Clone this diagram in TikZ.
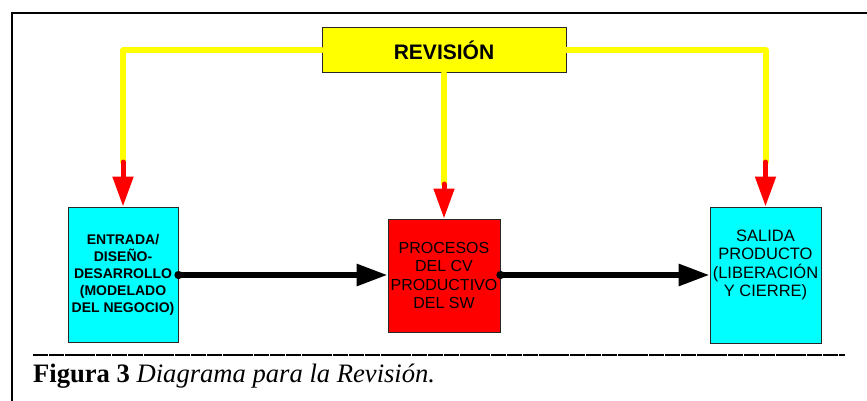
\documentclass[tikz,border=0pt]{standalone}
\usepackage{fontspec}
\setmainfont{Liberation Serif}
\newfontfamily\arialf{Liberation Sans}
\usetikzlibrary{arrows.meta}
\definecolor{revyellow}{RGB}{255,255,0}
\definecolor{boxcyan}{RGB}{0,255,255}
\definecolor{boxred}{RGB}{255,0,0}
\definecolor{edgegray}{RGB}{40,40,40}
\tikzset{
  boxbase/.style={draw=edgegray, line width=1pt, inner sep=0pt, align=center, text=black},
  boldtext/.style={font=\arialf\bfseries\fontsize{14}{17}\selectfont},
  plaintext/.style={font=\arialf\fontsize{16}{18.5}\selectfont},
  yline/.style={draw=revyellow, line width=6pt, line join=round, line cap=round},
  rarrow/.style={draw=boxred, line width=5pt, line cap=round, -{Triangle[length=30pt,width=20pt]}},
  barrow/.style={draw=black, line width=6pt, {Circle[length=8pt]}-{Triangle[length=31pt,width=21pt]}, shorten <=-4pt},
}
\begin{document}
\begin{tikzpicture}[x=1pt,y=-1pt]
\useasboundingbox (0,0) rectangle (867,401);
% frame
\draw[line width=2pt] (12,403) -- (12,13) -- (869,13);
% nodes
\node[boxbase, fill=revyellow, minimum width=244pt, minimum height=45pt,
      font=\arialf\bfseries\fontsize{21}{24}\selectfont] (rev) at (444,50.5) {REVISIÓN};
\node[boxbase, boldtext, fill=boxcyan, minimum width=110pt, minimum height=135pt] (entrada) at (123,274.5)
  {ENTRADA/\\DISEÑO-\\DESARROLLO\\(MODELADO\\DEL NEGOCIO)};
\node[boxbase, plaintext, fill=boxred, minimum width=112pt, minimum height=113pt] (proc) at (444,275.5)
  {PROCESOS\\DEL CV\\PRODUCTIVO\\DEL SW};
\node[boxbase, fill=boxcyan, minimum width=111pt, minimum height=136pt] (salida) at (765.5,275) {};
\node[plaintext, font=\arialf\fontsize{16.5}{18.5}\selectfont, align=center, inner sep=0pt] (salidatxt) at ([yshift=10pt]salida.center)
  {SALIDA\\PRODUCTO\\(LIBERACIÓN\\Y CIERRE)};
% junctions
\coordinate (jl) at (123,162);
\coordinate (jc) at (444,184);
\coordinate (jr) at (765.5,162);
% yellow feeds
\draw[yline] (rev.west) -| (jl);
\draw[yline] (rev.south) -- (jc);
\draw[yline] (rev.east) -| (jr);
% red arrows
\draw[rarrow] (jl) -- (entrada.north);
\draw[rarrow] (jc) -- (proc.north);
\draw[rarrow] (jr) -- (salida.north);
% black arrows
\draw[barrow] (entrada.east |- 0,275) -- (proc.west |- 0,275);
\draw[barrow] (proc.east |- 0,275) -- (salida.west |- 0,275);
% caption
\coordinate (sepl) at (33,355);
\coordinate (sepr) at (845,355);
\draw[line width=1.1pt, dash pattern=on 15pt off 0.8pt] (sepl) -- (sepr);
\node[anchor=base west, inner sep=0pt, font=\fontsize{26.6}{31}\selectfont] (cap) at (33,382)
  {\textbf{Figura 3} \textit{Diagrama para la Revisión.}};
\end{tikzpicture}
\end{document}
